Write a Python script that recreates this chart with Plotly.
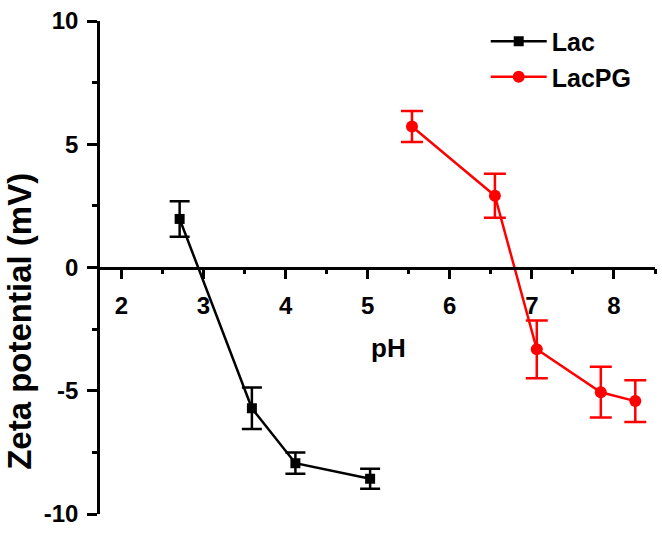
import plotly.graph_objects as go

# Data
lac_ph = [2.71, 3.59, 4.12, 5.03]
lac_zeta = [1.97, -5.71, -7.94, -8.57]
lac_err = [0.72, 0.84, 0.43, 0.41]

lacpg_ph = [5.54, 6.55, 7.06, 7.84, 8.26]
lacpg_zeta = [5.72, 2.91, -3.32, -5.06, -5.42]
lacpg_err = [0.63, 0.89, 1.17, 1.03, 0.85]

x_ticks = [2, 3, 4, 5, 6, 7, 8]
y_ticks = [-10, -5, 0, 5, 10]

FONT = "Liberation Sans, Arial, sans-serif"

fig = go.Figure()
fig.add_trace(go.Scatter(
    x=lac_ph, y=lac_zeta, name="Lac", mode="lines+markers",
    line=dict(color="black", width=2.5),
    marker=dict(symbol="square", size=10, color="black"),
    error_y=dict(type="data", array=lac_err, visible=True,
                 color="black", thickness=2.5, width=10),
))
fig.add_trace(go.Scatter(
    x=lacpg_ph, y=lacpg_zeta, name="LacPG", mode="lines+markers",
    line=dict(color="#ff0000", width=2.5),
    marker=dict(symbol="circle", size=12, color="#ff0000"),
    error_y=dict(type="data", array=lacpg_err, visible=True,
                 color="#ff0000", thickness=2.5, width=11),
))

fig.update_layout(
    width=662, height=534,
    margin=dict(l=100, r=7, t=15, b=11),
    paper_bgcolor="white", plot_bgcolor="white",
    font=dict(family=FONT, color="black", size=24, weight="bold"),
    showlegend=True,
    legend=dict(x=0.695, y=1.005, xanchor="left", yanchor="top",
                font=dict(family=FONT, size=25, weight="bold", color="black"),
                bgcolor="rgba(0,0,0,0)", itemwidth=56, tracegroupgap=0),
    xaxis=dict(
        range=[1.74, 8.5], anchor="free", position=0.5,
        showline=True, linecolor="black", linewidth=2.5,
        ticks="outside", ticklen=10, tickwidth=2.5, tickcolor="black",
        tickvals=x_ticks, ticktext=[str(v) for v in x_ticks],
        ticklabelstandoff=6, ticklabeloverflow="allow",
        tickfont=dict(family=FONT, size=24, weight="bold"),
        minor=dict(dtick=0.5, tick0=2, ticks="outside", ticklen=5,
                   tickwidth=2.5, tickcolor="black", showgrid=False),
        showgrid=False, zeroline=False,
    ),
    yaxis=dict(
        range=[-10, 10],
        showline=True, linecolor="black", linewidth=2.5,
        ticks="outside", ticklen=10, tickwidth=2.5, tickcolor="black",
        tickvals=y_ticks, ticktext=[str(v) for v in y_ticks],
        ticklabelstandoff=4, ticklabeloverflow="allow",
        tickfont=dict(family=FONT, size=24, weight="bold"),
        minor=dict(dtick=2.5, tick0=0, ticks="outside", ticklen=5,
                   tickwidth=2.5, tickcolor="black", showgrid=False),
        showgrid=False, zeroline=False,
    ),
    annotations=[
        dict(text="Zeta potential (mV)", textangle=-90, xref="paper", yref="paper",
             x=(20 - 100) / 555, y=1 - (325 - 15) / 508, xanchor="center", yanchor="middle",
             showarrow=False,
             font=dict(family=FONT, size=33, weight="bold", color="black")),
        dict(text="pH", xref="paper", yref="paper",
             x=(388 - 100) / 555, y=1 - (352 - 15) / 508, xanchor="center", yanchor="middle",
             showarrow=False,
             font=dict(family=FONT, size=26, weight="bold", color="black")),
    ],
)

fig.write_html("out.html", config={"displayModeBar": False},
               post_script="document.body.style.margin='0px';")
